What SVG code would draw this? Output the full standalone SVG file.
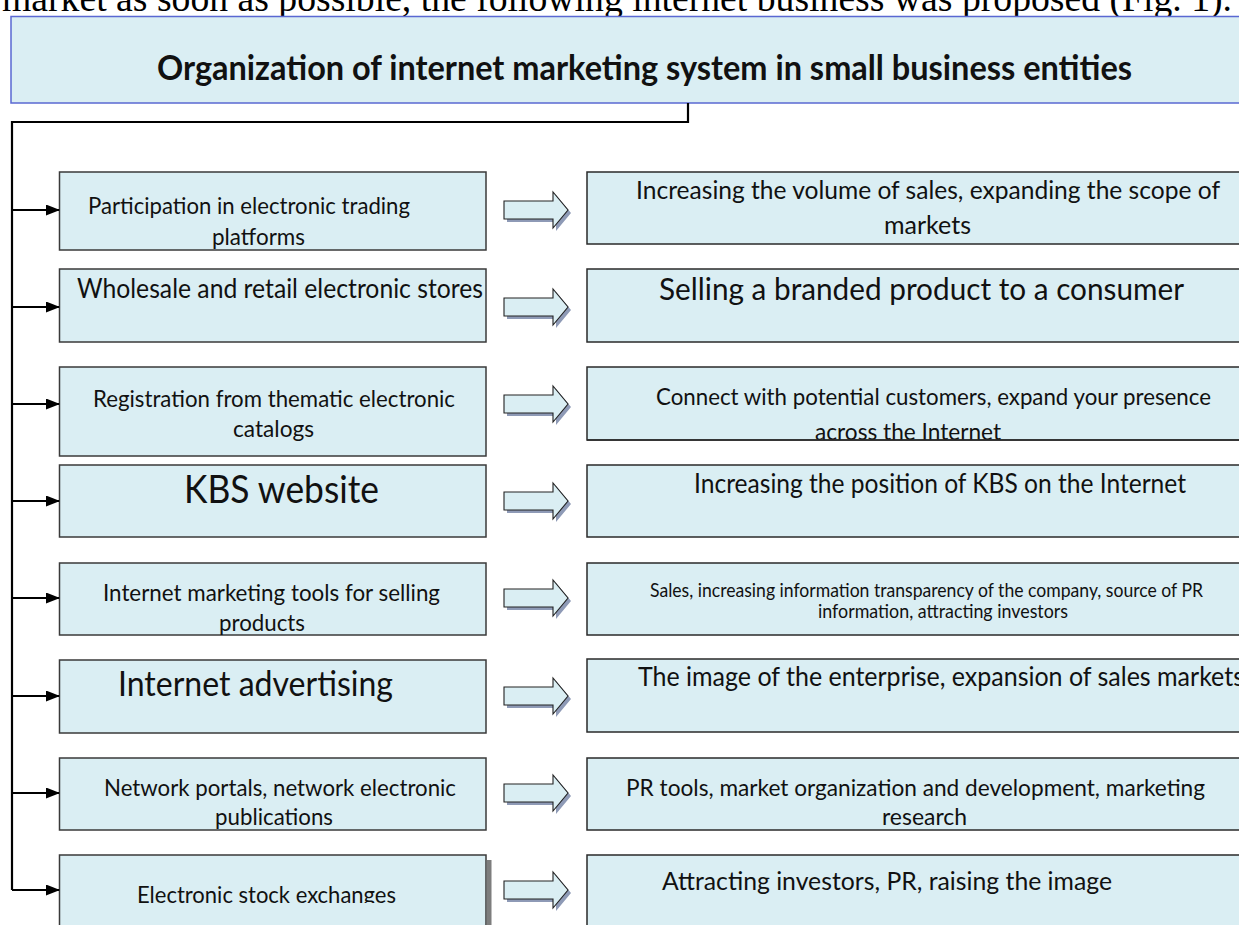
<svg xmlns="http://www.w3.org/2000/svg" width="1239" height="925" viewBox="0 0 1239 925">
  <style>
    .lbl { font-family: Lato, "Liberation Sans", Arial, sans-serif; fill: #111; }
    .box { fill: #daeef3; stroke: #3a3a3a; stroke-width: 1.5; }
    .res { fill: #daeef3; stroke: #2a2a2a; stroke-width: 1.5; }
    .wire { fill: none; stroke: #000; stroke-width: 2.2; }
    .blk { fill: #daeef3; stroke: #222; stroke-width: 1.1; }
    .blk-sh { fill: #8e9ab6; }
  </style>
  <defs>
    <marker id="tip" viewBox="0 0 14 11" refX="13" refY="5.5" markerWidth="14" markerHeight="11" markerUnits="userSpaceOnUse" orient="auto">
      <path d="M0,0 L14,5.5 L0,11 Z" fill="#000"/>
    </marker>
    <path id="fat" d="M0,-9 H49 V-18 L64,0 L49,18 V9 H0 Z"/>
    <clipPath id="cut8"><rect x="60" y="855" width="430" height="48"/></clipPath>
  </defs>

  <rect width="1239" height="925" fill="#fff"/>

  <!-- running text above the figure -->
  <text x="2" y="11" font-family="'Liberation Serif', 'Times New Roman', serif" font-size="37" fill="#000" textLength="1230" lengthAdjust="spacingAndGlyphs">market as soon as possible, the following internet business was proposed (Fig. 1).</text>

  <!-- heading -->
  <g id="title">
    <rect x="11" y="16.5" width="1240" height="86.5" fill="#daeef3" stroke="#5a68d2" stroke-width="1.5"/>
    <text class="lbl" x="157" y="80" font-size="34.5" font-weight="bold" textLength="975" lengthAdjust="spacingAndGlyphs">Organization of internet marketing system in small business entities</text>
  </g>

  <!-- left column: channels -->
  <g id="src-1">
    <rect class="box" x="59.5" y="172" width="426.5" height="78"/>
    <text class="lbl" x="88" y="214" font-size="23.7" textLength="322" lengthAdjust="spacingAndGlyphs">Participation in electronic trading</text>
    <text class="lbl" x="212" y="245" font-size="23.7" textLength="93" lengthAdjust="spacingAndGlyphs">platforms</text>
  </g>
  <g id="src-2">
    <rect class="box" x="59.5" y="269" width="426.5" height="73"/>
    <text class="lbl" x="77" y="298" font-size="26.3" textLength="406" lengthAdjust="spacingAndGlyphs">Wholesale and retail electronic stores</text>
  </g>
  <g id="src-3">
    <rect class="box" x="59.5" y="367" width="426.5" height="89"/>
    <text class="lbl" x="93" y="407" font-size="23.7" textLength="362" lengthAdjust="spacingAndGlyphs">Registration from thematic electronic</text>
    <text class="lbl" x="233" y="437" font-size="23.7" textLength="81" lengthAdjust="spacingAndGlyphs">catalogs</text>
  </g>
  <g id="src-4">
    <rect class="box" x="59.5" y="465" width="426.5" height="72"/>
    <text class="lbl" x="184" y="503" font-size="38.8" textLength="195" lengthAdjust="spacingAndGlyphs">KBS website</text>
  </g>
  <g id="src-5">
    <rect class="box" x="59.5" y="563" width="426.5" height="72"/>
    <text class="lbl" x="103" y="601" font-size="23.7" textLength="337" lengthAdjust="spacingAndGlyphs">Internet marketing tools for selling</text>
    <text class="lbl" x="219" y="631" font-size="23.7" textLength="86" lengthAdjust="spacingAndGlyphs">products</text>
  </g>
  <g id="src-6">
    <rect class="box" x="59.5" y="660" width="426.5" height="73"/>
    <text class="lbl" x="118" y="696" font-size="34.5" textLength="275" lengthAdjust="spacingAndGlyphs">Internet advertising</text>
  </g>
  <g id="src-7">
    <rect class="box" x="59.5" y="758" width="426.5" height="72"/>
    <text class="lbl" x="104" y="796" font-size="23.7" textLength="352" lengthAdjust="spacingAndGlyphs">Network portals, network electronic</text>
    <text class="lbl" x="215" y="825" font-size="23.7" textLength="118" lengthAdjust="spacingAndGlyphs">publications</text>
  </g>
  <g id="src-8">
    <rect x="487" y="860" width="4.5" height="70" fill="#7d7d7d"/>
    <rect class="box" x="59.5" y="855" width="426.5" height="90"/>
    <text class="lbl" x="137" y="903" font-size="23.7" textLength="259" lengthAdjust="spacingAndGlyphs" clip-path="url(#cut8)">Electronic stock exchanges</text>
  </g>

  <!-- right column: results -->
  <g id="res-1">
    <rect class="res" x="587" y="172" width="700" height="72"/>
    <text class="lbl" x="636" y="199" font-size="25.9" textLength="584" lengthAdjust="spacingAndGlyphs">Increasing the volume of sales, expanding the scope of</text>
    <text class="lbl" x="884" y="234" font-size="25.9" textLength="87" lengthAdjust="spacingAndGlyphs">markets</text>
  </g>
  <g id="res-2">
    <rect class="res" x="587" y="269" width="700" height="73"/>
    <text class="lbl" x="659" y="300" font-size="31" textLength="525" lengthAdjust="spacingAndGlyphs">Selling a branded product to a consumer</text>
  </g>
  <g id="res-3">
    <rect class="res" x="587" y="367" width="700" height="73"/>
    <text class="lbl" x="656" y="405" font-size="23.7" textLength="555" lengthAdjust="spacingAndGlyphs">Connect with potential customers, expand your presence</text>
    <text class="lbl" x="815" y="440" font-size="23.7" textLength="186" lengthAdjust="spacingAndGlyphs">across the Internet</text>
    <line x1="587" y1="440" x2="1239" y2="440" stroke="#2a2a2a" stroke-width="1.5"/>
  </g>
  <g id="res-4">
    <rect class="res" x="587" y="465" width="700" height="72"/>
    <text class="lbl" x="694" y="493" font-size="26.3" textLength="492" lengthAdjust="spacingAndGlyphs">Increasing the position of KBS on the Internet</text>
  </g>
  <g id="res-5">
    <rect class="res" x="587" y="563" width="700" height="72"/>
    <text class="lbl" x="650" y="597" font-size="18.8" textLength="553" lengthAdjust="spacingAndGlyphs">Sales, increasing information transparency of the company, source of PR</text>
    <text class="lbl" x="818" y="618" font-size="18.8" textLength="250" lengthAdjust="spacingAndGlyphs">information, attracting investors</text>
  </g>
  <g id="res-6">
    <rect class="res" x="587" y="659" width="700" height="73"/>
    <text class="lbl" x="638" y="686" font-size="26.7" textLength="606" lengthAdjust="spacingAndGlyphs">The image of the enterprise, expansion of sales markets</text>
  </g>
  <g id="res-7">
    <rect class="res" x="587" y="758" width="700" height="72"/>
    <text class="lbl" x="626" y="796" font-size="23.7" textLength="579" lengthAdjust="spacingAndGlyphs">PR tools, market organization and development, marketing</text>
    <text class="lbl" x="882" y="825" font-size="23.7" textLength="85" lengthAdjust="spacingAndGlyphs">research</text>
  </g>
  <g id="res-8">
    <rect class="res" x="587" y="855" width="700" height="90"/>
    <text class="lbl" x="662" y="890" font-size="25.9" textLength="450" lengthAdjust="spacingAndGlyphs">Attracting investors, PR, raising the image</text>
  </g>

  <!-- connectors: branch tree from the heading and block arrows to results -->
  <g id="connectors">
    <path class="wire" d="M688,103 V122 H12 V890"/>
    <line class="wire" x1="12" y1="210" x2="59" y2="210" marker-end="url(#tip)"/>
    <line class="wire" x1="12" y1="307" x2="59" y2="307" marker-end="url(#tip)"/>
    <line class="wire" x1="12" y1="404" x2="59" y2="404" marker-end="url(#tip)"/>
    <line class="wire" x1="12" y1="501" x2="59" y2="501" marker-end="url(#tip)"/>
    <line class="wire" x1="12" y1="598" x2="59" y2="598" marker-end="url(#tip)"/>
    <line class="wire" x1="12" y1="696" x2="59" y2="696" marker-end="url(#tip)"/>
    <line class="wire" x1="12" y1="793" x2="59" y2="793" marker-end="url(#tip)"/>
    <line class="wire" x1="12" y1="890" x2="59" y2="890" marker-end="url(#tip)"/>

    <use href="#fat" class="blk-sh" x="507" y="213"/>
    <use href="#fat" class="blk" x="504" y="210"/>
    <use href="#fat" class="blk-sh" x="507" y="310"/>
    <use href="#fat" class="blk" x="504" y="307"/>
    <use href="#fat" class="blk-sh" x="507" y="407"/>
    <use href="#fat" class="blk" x="504" y="404"/>
    <use href="#fat" class="blk-sh" x="507" y="504"/>
    <use href="#fat" class="blk" x="504" y="501"/>
    <use href="#fat" class="blk-sh" x="507" y="601"/>
    <use href="#fat" class="blk" x="504" y="598"/>
    <use href="#fat" class="blk-sh" x="507" y="699"/>
    <use href="#fat" class="blk" x="504" y="696"/>
    <use href="#fat" class="blk-sh" x="507" y="796"/>
    <use href="#fat" class="blk" x="504" y="793"/>
    <use href="#fat" class="blk-sh" x="507" y="893"/>
    <use href="#fat" class="blk" x="504" y="890"/>
  </g>
</svg>
